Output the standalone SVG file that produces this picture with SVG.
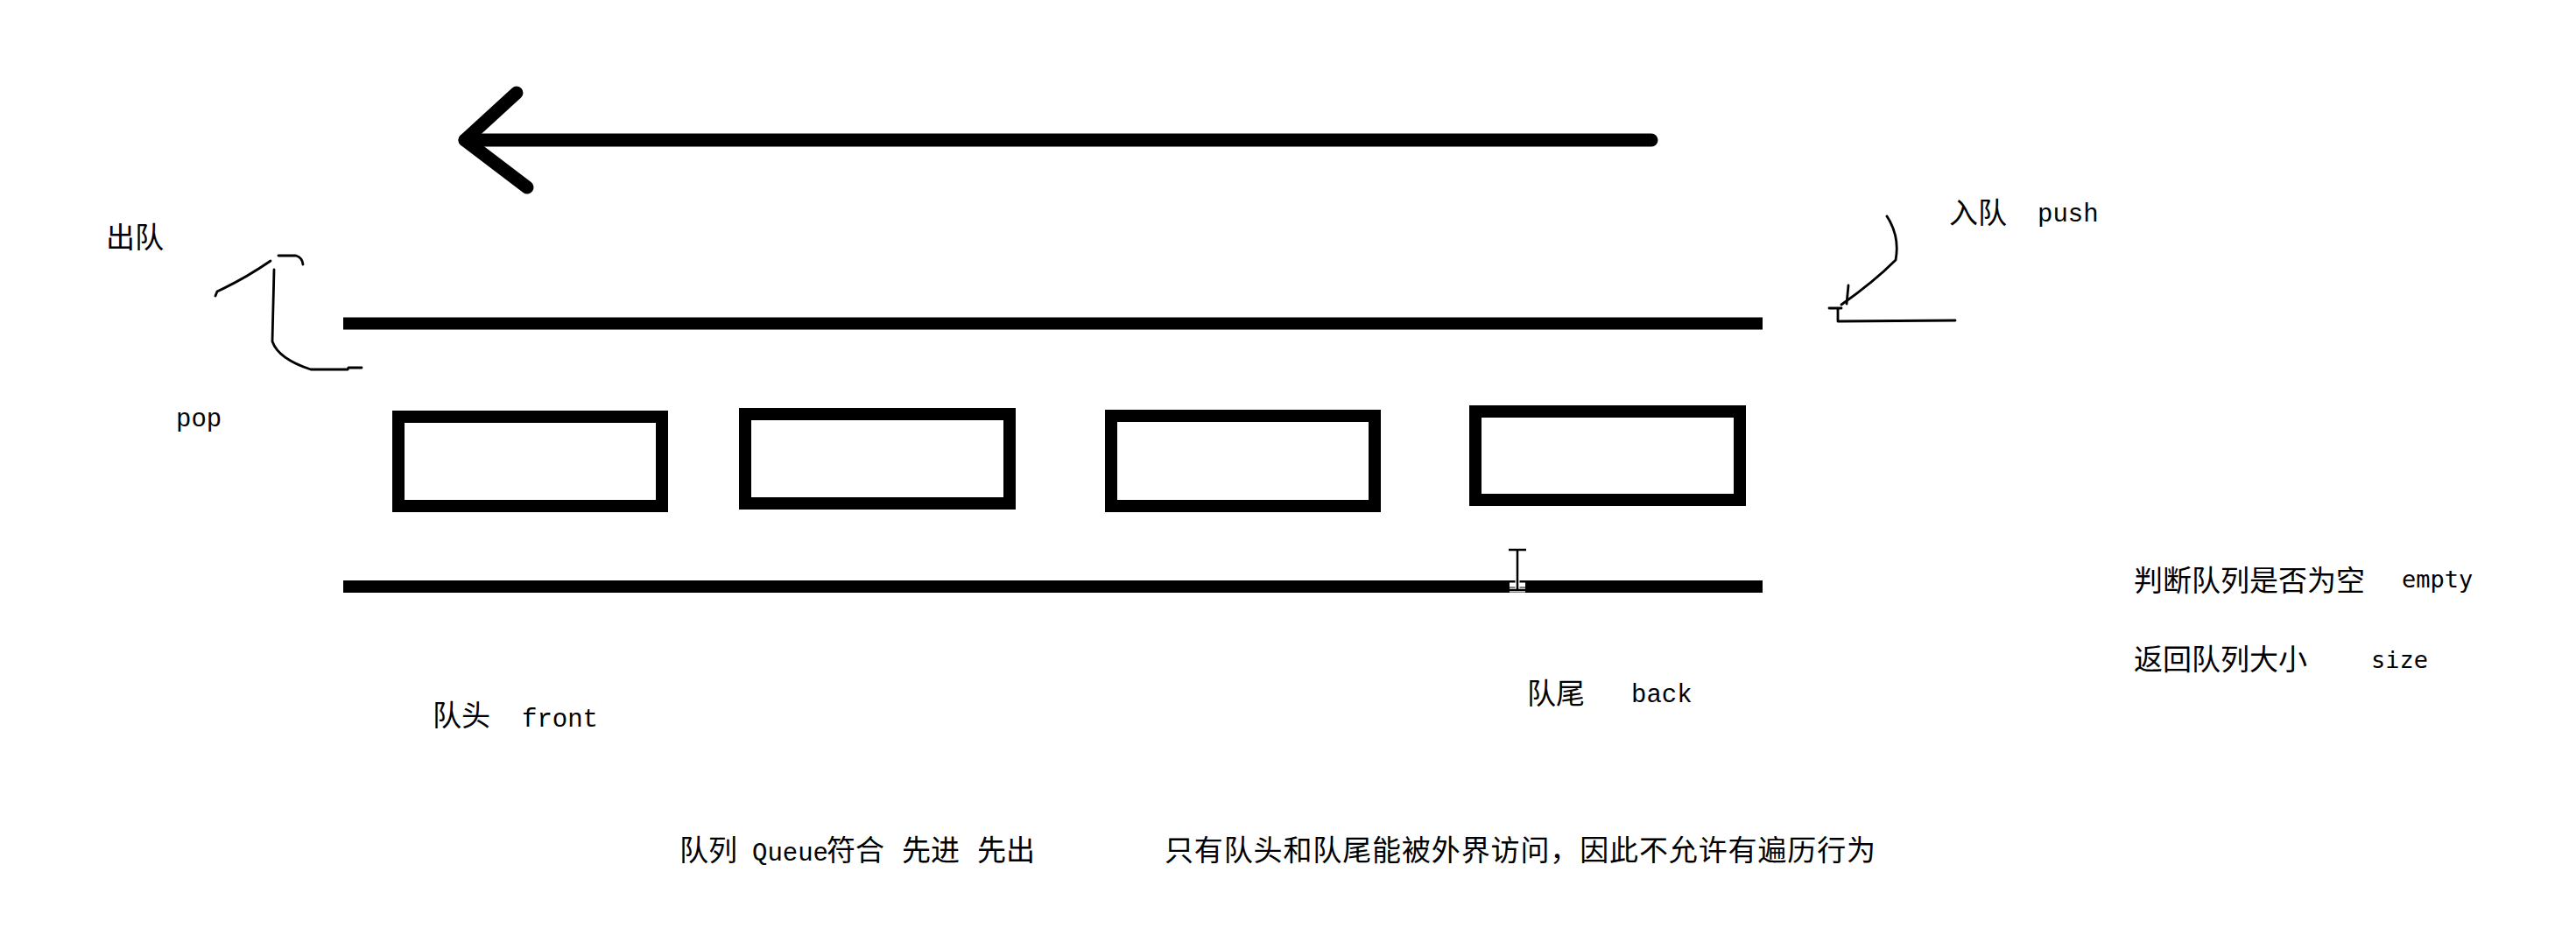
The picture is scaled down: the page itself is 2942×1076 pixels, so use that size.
<svg xmlns="http://www.w3.org/2000/svg" width="2942" height="1076" viewBox="0 0 2942 1076">
  <style>
    .cjk { font-family: "Noto Sans CJK SC", "Noto Sans", sans-serif; font-size: 33px; fill: #000; }
    .mono { font-family: "Liberation Mono", "DejaVu Sans Mono", monospace; font-size: 29px; fill: #000; }
    .smono { font-family: "DejaVu Sans Mono", "Liberation Mono", monospace; font-size: 27px; fill: #000; }
    .rail { stroke: #000; stroke-width: 14; fill: none; stroke-linecap: butt; }
    .box { stroke: #000; stroke-width: 14; fill: #fff; }
    .thick { stroke: #000; stroke-width: 15; fill: none; stroke-linecap: round; stroke-linejoin: round; }
    .thin { stroke: #000; stroke-width: 2.8; fill: none; stroke-linecap: round; stroke-linejoin: round; }
  </style>
  <rect x="0" y="0" width="2942" height="1076" fill="#fff"/>

  <g id="rails">
    <line class="rail" x1="392" y1="369.5" x2="2013" y2="369.5"/>
    <line class="rail" x1="392" y1="670" x2="2013" y2="670"/>
  </g>

  <g id="element-1"><rect class="box" x="455" y="476" width="301" height="102"/></g>
  <g id="element-2"><rect class="box" x="851" y="473" width="302" height="102"/></g>
  <g id="element-3"><rect class="box" x="1269" y="475" width="301" height="103"/></g>
  <g id="element-4"><rect class="box" x="1685" y="470" width="302" height="101"/></g>

  <g id="connectors">
    <g id="direction-arrow">
      <line class="thick" x1="531" y1="160" x2="1886" y2="160"/>
      <polyline class="thick" points="590,106 531,160 602,214"/>
    </g>
    <g id="pop-curve">
      <path class="thin" d="M246,338 L248,333 Q280,318 309,298"/>
      <path class="thin" d="M318,292 L338,292 Q345,294 346,302"/>
      <path class="thin" d="M313,308 L311,390 Q318,410 355,422 L397,422 L398,420 L413,420"/>
    </g>
    <g id="push-curve">
      <path class="thin" d="M2155,247 Q2170,270 2165,297 Q2140,322 2103,348"/>
      <path class="thin" d="M2111,326 L2109,347"/>
      <path class="thin" d="M2089,352 L2103,352"/>
      <path class="thin" d="M2099,353 L2099,367 L2233,366"/>
    </g>
  </g>

  <g id="cursor">
    <path d="M1723,628 L1743,628 M1733,628 L1733,674 M1724,674 L1742,674 M1724,668 L1742,668" stroke="#fff" stroke-width="5" fill="none"/>
    <path d="M1723,628 L1743,628 M1733,628 L1733,674 M1724,674 L1742,674" stroke="#000" stroke-width="2.5" fill="none"/>
  </g>

  <g id="labels">
    <text class="cjk" x="121" y="283">出队</text>
    <text class="mono" x="201" y="487">pop</text>
    <text class="cjk" x="2226" y="255">入队</text>
    <text class="mono" x="2327" y="253">push</text>
    <text class="cjk" x="2437" y="675">判断队列是否为空</text>
    <text class="smono" x="2743" y="671">empty</text>
    <text class="cjk" x="2437" y="765">返回队列大小</text>
    <text class="smono" x="2708" y="763">size</text>
    <text class="cjk" x="494" y="829">队头</text>
    <text class="mono" x="596" y="830">front</text>
    <text class="cjk" x="1744" y="804">队尾</text>
    <text class="mono" x="1863" y="802">back</text>
    <text class="cjk" x="776" y="983">队列</text>
    <text class="mono" x="859" y="983">Queue</text>
    <text class="cjk" x="944" y="983">符合</text>
    <text class="cjk" x="1030" y="983">先进</text>
    <text class="cjk" x="1116" y="983">先出</text>
    <text class="cjk" x="1330" y="983" textLength="812" lengthAdjust="spacing">只有队头和队尾能被外界访问，因此不允许有遍历行为</text>
  </g>
</svg>
